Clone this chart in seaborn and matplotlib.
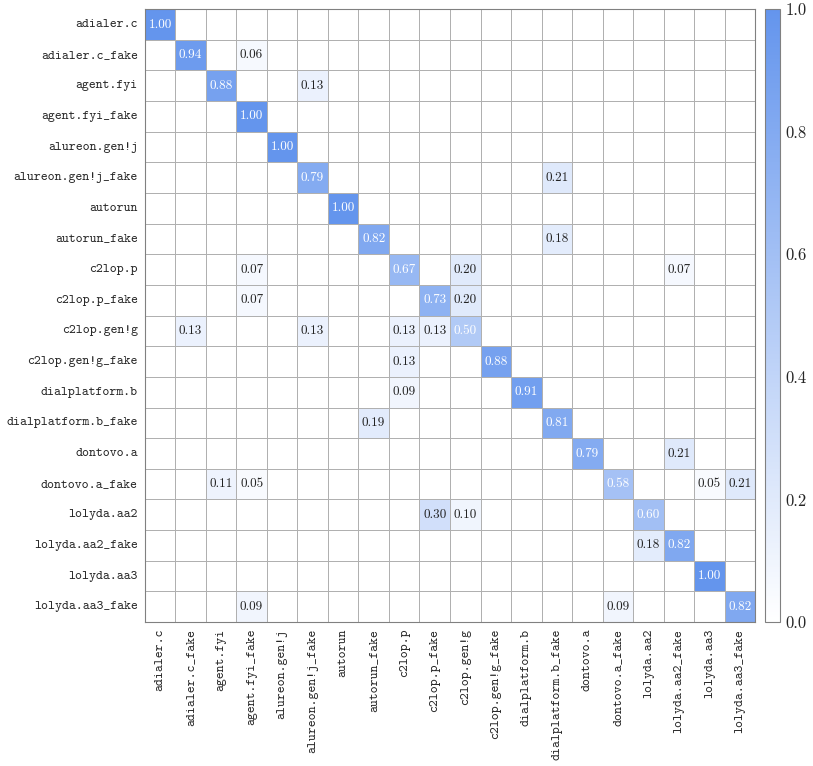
import numpy as np
import pandas as pd
import matplotlib
matplotlib.use("Agg")
import matplotlib.pyplot as plt
import seaborn as sns
from matplotlib.colors import LinearSegmentedColormap

classes = ["adialer.c", "adialer.c_fake", "agent.fyi", "agent.fyi_fake",
           "alureon.gen!j", "alureon.gen!j_fake", "autorun", "autorun_fake",
           "c2lop.p", "c2lop.p_fake", "c2lop.gen!g", "c2lop.gen!g_fake",
           "dialplatform.b", "dialplatform.b_fake", "dontovo.a", "dontovo.a_fake",
           "lolyda.aa2", "lolyda.aa2_fake", "lolyda.aa3", "lolyda.aa3_fake"]

# nonzero entries: (row, col, value)
row_idx = [0, 1, 1, 2, 2, 3, 4, 5, 5, 6, 7, 7,
           8, 8, 8, 8, 9, 9, 9,
           10, 10, 10, 10, 10, 11, 11, 12, 12, 13, 13, 14, 14,
           15, 15, 15, 15, 15, 16, 16, 16, 17, 17, 18, 19, 19, 19]
col_idx = [0, 1, 3, 2, 5, 3, 4, 5, 13, 6, 7, 13,
           3, 8, 10, 17, 3, 9, 10,
           1, 5, 8, 9, 10, 8, 11, 8, 12, 7, 13, 14, 17,
           2, 3, 15, 18, 19, 9, 10, 16, 16, 17, 18, 3, 15, 19]
values = [1.00, 0.94, 0.06, 0.88, 0.13, 1.00, 1.00, 0.79, 0.21, 1.00, 0.82, 0.18,
          0.07, 0.67, 0.20, 0.07, 0.07, 0.73, 0.20,
          0.13, 0.13, 0.13, 0.13, 0.50, 0.13, 0.88, 0.09, 0.91, 0.19, 0.81, 0.79, 0.21,
          0.11, 0.05, 0.58, 0.05, 0.21, 0.30, 0.10, 0.60, 0.18, 0.82, 1.00, 0.09, 0.09, 0.82]

n = len(classes)
mat = np.zeros((n, n))
for r, c, v in zip(row_idx, col_idx, values):
    mat[r, c] = v
df = pd.DataFrame(mat, index=classes, columns=classes)
annot = np.where(mat > 0, np.vectorize(lambda v: f"{v:.2f}")(mat), "")

sns.set_style("white")
plt.rcParams["axes.formatter.use_mathtext"] = True

cmap = LinearSegmentedColormap.from_list("wb", ["#ffffff", "#6495ed"])

fig = plt.figure(figsize=(8.13, 7.66), dpi=100)
ax = fig.add_axes([0.178, 0.188, 0.751, 0.800])
cax = fig.add_axes([0.941, 0.188, 0.0185, 0.800])

sns.heatmap(df, ax=ax, cbar_ax=cax, cmap=cmap, vmin=0, vmax=1,
            annot=annot, fmt="", linewidths=0.6, linecolor="#b0b0b0",
            annot_kws={"fontsize": 9.5, "family": "cmr10"})

for t in ax.texts:
    s = t.get_text()
    if s:
        v = float(s)
        t.set_color("white" if v >= 0.45 else "#222222")

ax.set_xticks(np.arange(n) + 0.5)
ax.set_yticks(np.arange(n) + 0.5)
ax.set_xticklabels(classes, rotation=90, family="cmtt10", fontsize=9.5)
ax.set_yticklabels(classes, rotation=0, family="cmtt10", fontsize=9.5)
ax.tick_params(length=0, pad=5)
ax.set_xlabel("")
ax.set_ylabel("")
for sp in ax.spines.values():
    sp.set_visible(True)
    sp.set_color("#808080")
    sp.set_linewidth(0.8)

cax.set_yticks([0, 0.2, 0.4, 0.6, 0.8, 1.0])
cax.set_yticklabels(["0.0", "0.2", "0.4", "0.6", "0.8", "1.0"], family="cmr10", fontsize=12)
cax.tick_params(length=3, width=0.5, color="#c0c0c0", direction="in", pad=4)
cbar = ax.collections[0].colorbar
cbar.outline.set_visible(True)
cbar.outline.set_edgecolor("#808080")
cbar.outline.set_linewidth(0.8)

fig.savefig("out.png", dpi=100)
